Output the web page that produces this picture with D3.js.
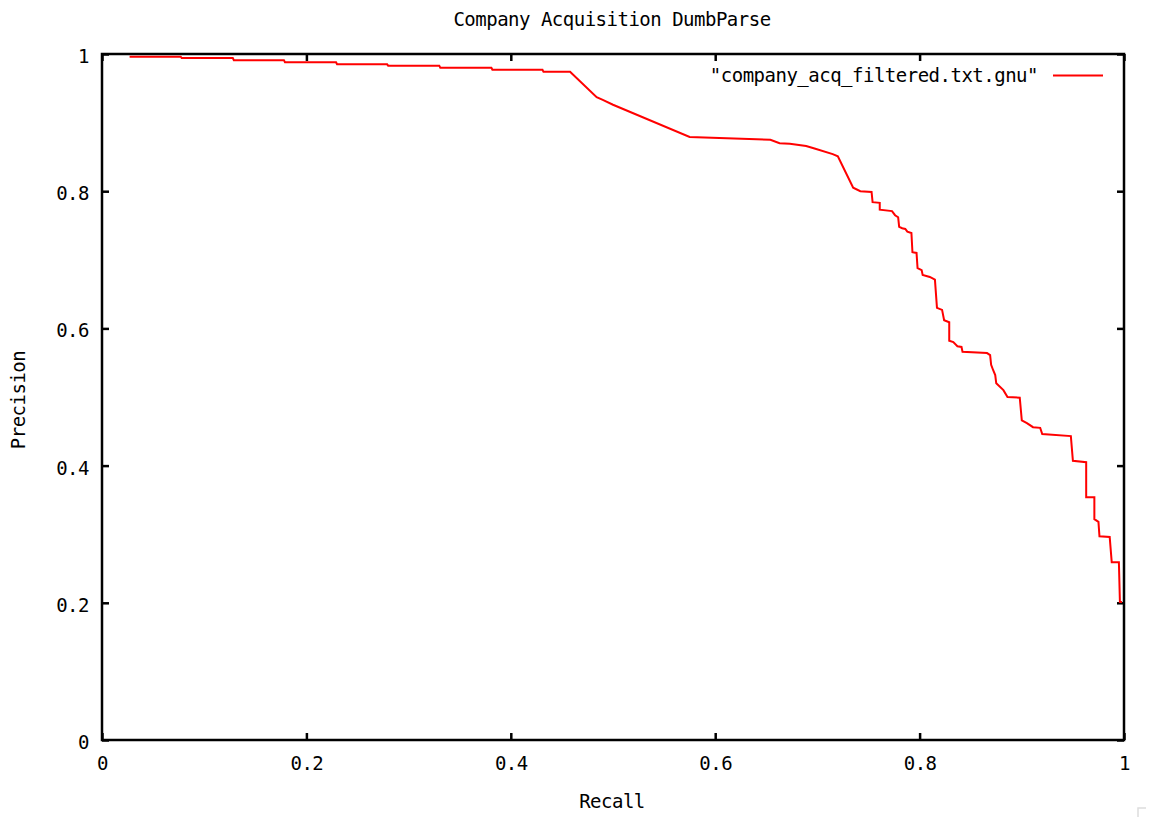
<!DOCTYPE html>
<html>
<head>
<meta charset="utf-8">
<script src="https://cdn.jsdelivr.net/npm/d3@7"></script>
<style>
  body { margin: 0; background: #fff; }
  text { font-family: "DejaVu Sans Mono", "Liberation Mono", monospace; font-size: 19px; letter-spacing: -0.5px; fill: #000; }
</style>
</head>
<body>
<div id="chart"></div>
<script>
// データ
const title = 'Company Acquisition DumbParse'
const seriesName = '"company_acq_filtered.txt.gnu"'
const xTicks = [0, 0.2, 0.4, 0.6, 0.8, 1]
const xTickLabels = ['0', '0.2', '0.4', '0.6', '0.8', '1']
const yTicks = [0, 0.2, 0.4, 0.6, 0.8, 1]
const yTickLabels = ['0', '0.2', '0.4', '0.6', '0.8', '1']

const recall = [
  0.027, 0.077, 0.078, 0.128, 0.129, 0.178, 0.179, 0.229, 0.230, 0.279,
  0.280, 0.330, 0.331, 0.381, 0.382, 0.431, 0.432, 0.458, 0.484, 0.490,
  0.500, 0.575, 0.654, 0.663, 0.673, 0.689, 0.698, 0.715, 0.720, 0.735,
  0.742, 0.753, 0.754, 0.761, 0.761, 0.773, 0.776, 0.779, 0.780, 0.783,
  0.786, 0.788, 0.792, 0.793, 0.797, 0.798, 0.802, 0.803, 0.810, 0.815,
  0.817, 0.822, 0.824, 0.829, 0.829, 0.833, 0.837, 0.841, 0.842, 0.866,
  0.869, 0.870, 0.872, 0.874, 0.875, 0.882, 0.886, 0.898, 0.900, 0.905,
  0.911, 0.918, 0.920, 0.948, 0.950, 0.963, 0.963, 0.971, 0.971, 0.975,
  0.976, 0.986, 0.988, 0.995, 0.996, 0.998
]
const precision = [
  0.996, 0.996, 0.994, 0.994, 0.991, 0.991, 0.988, 0.988, 0.985, 0.985,
  0.983, 0.983, 0.980, 0.980, 0.977, 0.977, 0.974, 0.974, 0.937, 0.933,
  0.926, 0.879, 0.875, 0.870, 0.869, 0.866, 0.862, 0.854, 0.851, 0.805,
  0.800, 0.799, 0.784, 0.783, 0.773, 0.771, 0.765, 0.762, 0.748, 0.746,
  0.745, 0.741, 0.739, 0.711, 0.710, 0.688, 0.685, 0.678, 0.675, 0.671,
  0.630, 0.627, 0.612, 0.609, 0.582, 0.580, 0.574, 0.573, 0.566, 0.564,
  0.561, 0.547, 0.539, 0.532, 0.520, 0.510, 0.500, 0.499, 0.466, 0.462,
  0.456, 0.455, 0.446, 0.443, 0.407, 0.405, 0.354, 0.354, 0.322, 0.318,
  0.297, 0.296, 0.259, 0.259, 0.201, 0.201
]

const W = 1158, H = 817
const plotLeft = 102, plotRight = 1124, plotTop = 54, plotBottom = 740

const svg = d3.select('#chart')
              .append('svg')
              .attr('width', W)
              .attr('height', H)

const x = d3.scaleLinear().domain([0, 1]).range([plotLeft, plotRight])
const y = d3.scaleLinear().domain([0, 1]).range([plotBottom, plotTop])

// 軸 (目盛りは内側)
const styleAxis = g => {
  g.select('.domain').remove()
  g.selectAll('.tick line').attr('stroke', '#000').attr('stroke-width', 2.5)
  g.selectAll('.tick text').attr('font-family', null).attr('font-size', null)
}
svg.append('g')
   .attr('transform', `translate(0,${plotBottom})`)
   .call(d3.axisBottom(x).tickValues(xTicks).tickSize(-7).tickPadding(17)
           .tickFormat((d, i) => xTickLabels[i]))
   .call(styleAxis)
svg.append('g')
   .attr('transform', `translate(0,${plotTop})`)
   .call(d3.axisTop(x).tickValues(xTicks).tickSize(-7).tickFormat(''))
   .call(styleAxis)
svg.append('g')
   .attr('transform', `translate(${plotLeft},0)`)
   .call(d3.axisLeft(y).tickValues(yTicks).tickSize(-7).tickPadding(13)
           .tickFormat((d, i) => yTickLabels[i]))
   .call(styleAxis)
   .selectAll('.tick text').attr('dy', '0.45em')
svg.append('g')
   .attr('transform', `translate(${plotRight},0)`)
   .call(d3.axisRight(y).tickValues(yTicks).tickSize(-7).tickFormat(''))
   .call(styleAxis)

// 枠
svg.append('rect')
   .attr('x', plotLeft).attr('y', plotTop)
   .attr('width', plotRight - plotLeft).attr('height', plotBottom - plotTop)
   .attr('fill', 'none')
   .attr('stroke', '#000')
   .attr('stroke-width', 2.5)

// 曲線
const line = d3.line()
               .x(d => x(d[0]))
               .y(d => y(d[1]))
svg.append('path')
   .datum(d3.zip(recall, precision))
   .attr('d', line)
   .attr('fill', 'none')
   .attr('stroke', '#ff0000')
   .attr('stroke-width', 2)

// 凡例
svg.append('text')
   .attr('x', 1038).attr('y', 82)
   .attr('text-anchor', 'end')
   .text(seriesName)
svg.append('line')
   .attr('x1', 1053).attr('x2', 1103)
   .attr('y1', 75.5).attr('y2', 75.5)
   .attr('stroke', '#ff0000')
   .attr('stroke-width', 2)

// タイトル・軸ラベル
svg.append('text')
   .attr('x', 612).attr('y', 26)
   .attr('text-anchor', 'middle')
   .text(title)
svg.append('text')
   .attr('x', 612).attr('y', 808)
   .attr('text-anchor', 'middle')
   .text('Recall')
svg.append('text')
   .attr('transform', 'translate(25,400) rotate(-90)')
   .attr('text-anchor', 'middle')
   .text('Precision')

// 右下の小さな印
svg.append('path')
   .attr('d', 'M1138,818 V808 H1146')
   .attr('fill', 'none')
   .attr('stroke', '#ddd')
   .attr('stroke-width', 1.5)
</script>
</body>
</html>
